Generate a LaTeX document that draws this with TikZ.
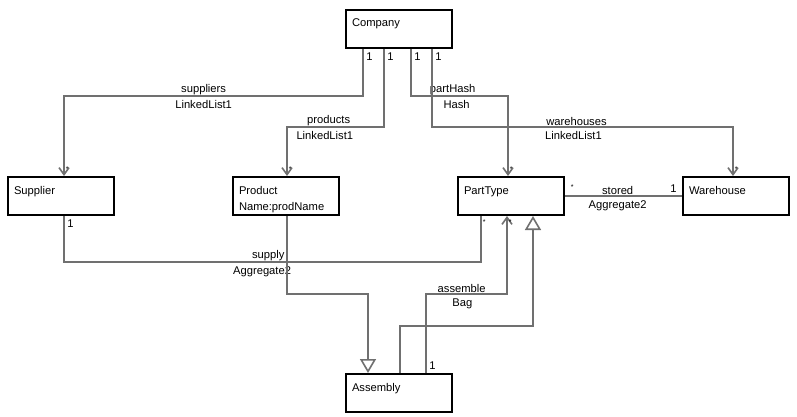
\documentclass[tikz,border=0pt]{standalone}
\usepackage{fontspec}
\setmainfont{Liberation Sans}
\usetikzlibrary{arrows.meta}
\definecolor{connector}{RGB}{112,112,112}
\definecolor{boxline}{RGB}{0,0,0}

\begin{document}
\begin{tikzpicture}[x=1pt, y=1pt]
            \tikzstyle{every node} = [font=\fontsize{11.2}{16}\selectfont]
            \tikzstyle{classbox} = [draw=boxline, line width=2pt, anchor=north west,
                text width=94pt, align=left, inner xsep=6pt, inner ysep=0pt,
                text height=17pt, text depth=21pt]
            \tikzstyle{assoc} = [draw=connector, line width=1.6pt]
            \tikzstyle{nav} = [-{Straight Barb[length=7pt, width=10pt]}]
            \tikzstyle{inherit} = [-{Triangle[open, length=14pt, width=16pt, fill=white]}]
            \tikzstyle{role} = [above, inner sep=0.5pt]
            \tikzstyle{kind} = [below, inner sep=4pt]
            \tikzstyle{mult} = [inner sep=2.5pt]
            \tikzstyle{many} = [inner sep=1pt, font=\fontsize{7}{8}\selectfont]
            \useasboundingbox (0, 0) rectangle (797, -417);

            \node[classbox] (company) at (345, -9) {Company};
            \node[classbox] (supplier) at (7, -176) {Supplier};
            \node[classbox] (product) at (232, -176)
                {\begin{tabular}[t]{@{}l@{}}Product\\Name:prodName\end{tabular}};
            \node[classbox] (parttype) at (457, -176) {PartType};
            \node[classbox] (warehouse) at (682, -176) {Warehouse};
            \node[classbox] (assembly) at (345, -373) {Assembly};

            \draw[assoc, nav] ([xshift=18pt]company.south west)
                node[mult, anchor=north west]{1} -- (363, -96)
                -- node[pos=0.533, role]{suppliers} node[pos=0.533, kind]{LinkedList1} (64, -96)
                -- ([xshift=57pt]supplier.north west) node[many, anchor=south west, yshift=3pt]{*};
            \draw[assoc, nav] ([xshift=39pt]company.south west)
                node[mult, anchor=north west]{1} -- (384, -127)
                -- node[pos=0.57, role]{products} node[pos=0.61, kind]{LinkedList1} (287, -127)
                -- ([xshift=55pt]product.north west) node[many, anchor=south west, yshift=3pt]{*};
            \draw[assoc, nav] ([xshift=66pt]company.south west)
                node[mult, anchor=north west]{1} -- (411, -96)
                -- node[pos=0.43, role]{partHash} node[pos=0.47, kind]{Hash} (508, -96)
                -- ([xshift=51pt]parttype.north west) node[many, anchor=south west, yshift=3pt]{*};
            \draw[assoc, nav] ([xshift=87pt]company.south west)
                node[mult, anchor=north west]{1} -- (432, -127)
                -- node[pos=0.48, role]{warehouses} node[pos=0.47, kind]{LinkedList1} (733, -127)
                -- ([xshift=51pt]warehouse.north west) node[many, anchor=south west, yshift=3pt]{*};

            \draw[assoc] (parttype.east) node[many, anchor=south west, xshift=4pt, yshift=5pt]{*}
                -- node[pos=0.45, role]{stored} node[pos=0.45, kind]{Aggregate2}
                (warehouse.west) node[mult, anchor=south east, xshift=-2pt]{1};

            \draw[assoc] ([xshift=57pt]supplier.south west)
                node[mult, anchor=north west]{1} -- (64, -262)
                -- node[pos=0.49, role]{supply} node[pos=0.475, kind]{Aggregate2} (481, -262)
                -- ([xshift=24pt]parttype.south west) node[many, anchor=north west, yshift=-2pt]{*};

            \draw[assoc, inherit] ([xshift=55pt]product.south west) -- (287, -294)
                -- (368, -294) -- ([xshift=23pt]assembly.north west);

            \draw[assoc, nav] ([xshift=81pt]assembly.north west)
                node[mult, anchor=south west]{1} -- (426, -294)
                -- node[pos=0.44, role]{assemble} node[pos=0.45, kind]{Bag} (507, -294)
                -- ([xshift=50pt]parttype.south west) node[many, anchor=north west, yshift=-2pt]{*};

            \draw[assoc, inherit] ([xshift=55pt]assembly.north west) -- (400, -326)
                -- (533, -326) -- ([xshift=76pt]parttype.south west);
\end{tikzpicture}
\end{document}
